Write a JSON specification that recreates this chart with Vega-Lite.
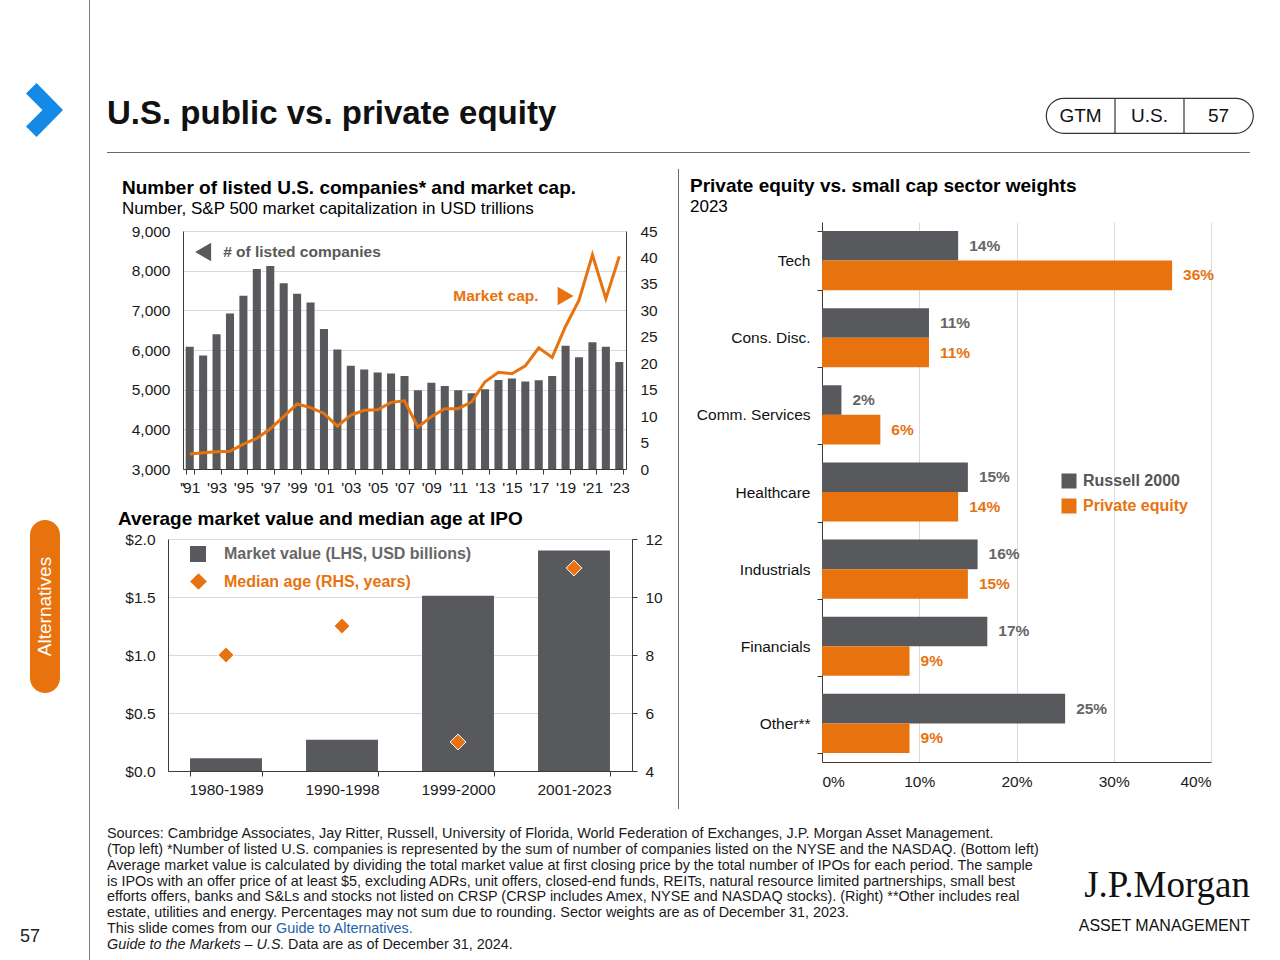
{
  "$schema": "https://vega.github.io/schema/vega-lite/v6.json",
  "background": "white",
  "padding": 0,
  "spacing": 0,
  "config": {
    "font": "Liberation Sans",
    "view": {"stroke": null},
    "axis": {"labelFont": "Liberation Sans", "labelFontSize": 15.5, "labelColor": "#1a1a1a", "domainColor": "#3a3a3a", "tickColor": "#3a3a3a", "gridColor": "#dadada"},
    "legend": {"labelFont": "Liberation Sans", "padding": 0},
    "title": {"font": "Liberation Sans", "subtitleFont": "Liberation Sans", "color": "#000000", "subtitleColor": "#000000", "fontWeight": "bold", "anchor": "start", "frame": "group"},
    "text": {"font": "Liberation Sans"}
  },
  "hconcat": [
    {
      "spacing": 0,
      "vconcat": [
        {"width": 89, "height": 83, "data": {"values": []}, "mark": "text"},
        {"width": 89, "height": 54, "data": {"values": [{"icon": "chevron"}]}, "mark": {"type": "point", "shape": "M-0.685,-0.611L-0.296,-1L0.685,0L-0.296,1L-0.685,0.611L-0.074,0Z", "size": 2916, "filled": true, "color": "#1589e6", "opacity": 1, "strokeWidth": 0}},
        {"width": 89, "height": 383, "data": {"values": []}, "mark": "text"},
        {
          "spacing": 0,
          "hconcat": [
            {"width": 30, "height": 173, "data": {"values": []}, "mark": "text"},
            {"width": 30, "height": 173, "view": {"fill": "#e8730e", "cornerRadius": 15, "stroke": null}, "data": {"values": [{"section": "Alternatives"}]}, "mark": {"type": "text", "angle": 270, "color": "white", "fontSize": 19, "baseline": "middle", "align": "center"}, "encoding": {"text": {"field": "section"}}}
          ]
        },
        {"width": 89, "height": 232, "data": {"values": []}, "mark": "text"},
        {"width": 60, "height": 24, "data": {"values": [{"page": "57"}]}, "mark": {"type": "text", "fontSize": 18, "color": "#222222", "baseline": "middle"}, "encoding": {"text": {"field": "page"}}}
      ]
    },
    {"width": 1, "height": 960, "view": {"fill": "#7a7a7a", "stroke": null}, "data": {"values": []}, "mark": "text"},
    {"width": 17, "height": 10, "data": {"values": []}, "mark": "text"},
    {
      "spacing": 0,
      "vconcat": [
        {"width": 1143, "height": 96, "data": {"values": []}, "mark": "text"},
        {
          "spacing": 0,
          "hconcat": [
            {"width": 938, "height": 35, "data": {"values": []}, "mark": "text", "title": {"text": "U.S. public vs. private equity", "fontSize": 33, "fontWeight": "bold", "color": "#111111", "anchor": "start", "frame": "group", "orient": "top", "offset": -33}},
            {
              "width": 207, "height": 35,
              "view": {"stroke": "#333333", "strokeWidth": 1.2, "cornerRadius": 17.5},
              "data": {"values": [{"tag": "GTM"}, {"tag": "U.S."}, {"tag": "57"}]},
              "encoding": {"x": {"field": "tag", "type": "nominal", "sort": null, "axis": null, "scale": {"paddingInner": 0, "paddingOuter": 0}}},
              "layer": [
                {"mark": {"type": "text", "fontSize": 19, "color": "#111111", "baseline": "middle"}, "encoding": {"text": {"field": "tag"}}},
                {"transform": [{"filter": "datum.tag !== 'GTM'"}], "mark": {"type": "rule", "color": "#333333", "strokeWidth": 1.2}, "encoding": {"x": {"field": "tag", "type": "nominal", "sort": null, "bandPosition": 0}}}
              ]
            }
          ]
        },
        {"width": 1143, "height": 17, "data": {"values": []}, "mark": "text"},
        {"width": 1143, "height": 1, "view": {"fill": "#6b6b6b", "stroke": null}, "data": {"values": []}, "mark": "text"},
        {
          "spacing": 0,
          "hconcat": [
            {
              "spacing": 0,
              "vconcat": [
                {"width": 571, "height": 26, "data": {"values": []}, "mark": "text"},
                {
                  "spacing": 0,
                  "hconcat": [
                    {"width": 15, "height": 10, "data": {"values": []}, "mark": "text"},
                    {
                      "width": 443, "height": 238,
                      "title": {"text": "Number of listed U.S. companies* and market cap.", "subtitle": "Number, S&P 500 market capitalization in USD trillions", "fontSize": 19, "subtitleFontSize": 17, "subtitleFontWeight": "normal", "subtitlePadding": 3, "dx": -61, "offset": 7},
                      "data": {"values": [
                        {"yr": 1991, "listed": 6080, "mktcap": 2.85},
                        {"yr": 1992, "listed": 5860, "mktcap": 3.05},
                        {"yr": 1993, "listed": 6400, "mktcap": 3.25},
                        {"yr": 1994, "listed": 6920, "mktcap": 3.35},
                        {"yr": 1995, "listed": 7370, "mktcap": 4.7},
                        {"yr": 1996, "listed": 8040, "mktcap": 5.8},
                        {"yr": 1997, "listed": 8115, "mktcap": 7.6},
                        {"yr": 1998, "listed": 7685, "mktcap": 9.9},
                        {"yr": 1999, "listed": 7420, "mktcap": 12.3},
                        {"yr": 2000, "listed": 7195, "mktcap": 11.6},
                        {"yr": 2001, "listed": 6530, "mktcap": 10.5},
                        {"yr": 2002, "listed": 6010, "mktcap": 8.1},
                        {"yr": 2003, "listed": 5600, "mktcap": 10.2},
                        {"yr": 2004, "listed": 5510, "mktcap": 11.1},
                        {"yr": 2005, "listed": 5430, "mktcap": 11.2},
                        {"yr": 2006, "listed": 5410, "mktcap": 12.6},
                        {"yr": 2007, "listed": 5345, "mktcap": 12.9},
                        {"yr": 2008, "listed": 4985, "mktcap": 7.9},
                        {"yr": 2009, "listed": 5175, "mktcap": 9.9},
                        {"yr": 2010, "listed": 5090, "mktcap": 11.4},
                        {"yr": 2011, "listed": 4985, "mktcap": 11.4},
                        {"yr": 2012, "listed": 4910, "mktcap": 12.7},
                        {"yr": 2013, "listed": 5010, "mktcap": 16.5},
                        {"yr": 2014, "listed": 5245, "mktcap": 18.3},
                        {"yr": 2015, "listed": 5280, "mktcap": 18.0},
                        {"yr": 2016, "listed": 5205, "mktcap": 19.5},
                        {"yr": 2017, "listed": 5235, "mktcap": 22.9},
                        {"yr": 2018, "listed": 5345, "mktcap": 21.1},
                        {"yr": 2019, "listed": 6110, "mktcap": 27.0},
                        {"yr": 2020, "listed": 5815, "mktcap": 31.9},
                        {"yr": 2021, "listed": 6195, "mktcap": 40.5},
                        {"yr": 2022, "listed": 6085, "mktcap": 32.2},
                        {"yr": 2023, "listed": 5700, "mktcap": 40.2}
                      ]},
                      "encoding": {"x": {"field": "yr", "type": "ordinal", "scale": {"paddingInner": 0.4, "paddingOuter": 0.2}, "axis": {"title": null, "values": [1991, 1993, 1995, 1997, 1999, 2001, 2003, 2005, 2007, 2009, 2011, 2013, 2015, 2017, 2019, 2021, 2023], "labelExpr": "\"'\" + slice(datum.label, 2)", "labelAngle": 0, "tickBand": "extent", "tickSize": 5, "labelPadding": 6}}},
                      "layer": [
                        {"mark": {"type": "bar", "color": "#57595c", "clip": true}, "encoding": {"y": {"field": "listed", "type": "quantitative", "scale": {"domain": [3000, 9000]}, "axis": {"title": null, "values": [3000, 4000, 5000, 6000, 7000, 8000, 9000], "format": ",.0f", "ticks": false, "labelPadding": 13, "grid": true}}}},
                        {"mark": {"type": "line", "color": "#e8730e", "strokeWidth": 3}, "encoding": {"y": {"field": "mktcap", "type": "quantitative", "scale": {"domain": [0, 45]}, "axis": {"title": null, "orient": "right", "values": [0, 5, 10, 15, 20, 25, 30, 35, 40, 45], "format": ".0f", "ticks": false, "labelPadding": 14, "grid": false}}}},
                        {"data": {"values": [{"note": "# of listed companies"}]}, "mark": {"type": "point", "shape": "triangle-left", "size": 340, "filled": true, "color": "#57595c", "opacity": 1}, "encoding": {"x": {"datum": 1992, "type": "ordinal"}, "y": {"datum": 8470, "type": "quantitative", "scale": {"domain": [3000, 9000]}, "axis": null}}},
                        {"data": {"values": [{"note": "# of listed companies"}]}, "mark": {"type": "text", "align": "left", "baseline": "middle", "dx": 20, "fontSize": 15.5, "fontWeight": "bold", "color": "#595959"}, "encoding": {"x": {"datum": 1992, "type": "ordinal"}, "y": {"datum": 8470, "type": "quantitative", "scale": {"domain": [3000, 9000]}, "axis": null}, "text": {"field": "note"}}},
                        {"data": {"values": [{"note": "Market cap."}]}, "mark": {"type": "text", "align": "right", "baseline": "middle", "dx": -27, "fontSize": 15.5, "fontWeight": "bold", "color": "#e8730e"}, "encoding": {"x": {"datum": 2019, "type": "ordinal"}, "y": {"datum": 7360, "type": "quantitative", "scale": {"domain": [3000, 9000]}, "axis": null}, "text": {"field": "note"}}},
                        {"data": {"values": [{"note": "Market cap."}]}, "mark": {"type": "point", "shape": "triangle-right", "size": 340, "filled": true, "color": "#e8730e", "opacity": 1}, "encoding": {"x": {"datum": 2019, "type": "ordinal"}, "y": {"datum": 7360, "type": "quantitative", "scale": {"domain": [3000, 9000]}, "axis": null}}}
                      ],
                      "resolve": {"scale": {"y": "independent"}}
                    }
                  ]
                },
                {"width": 571, "height": 14, "data": {"values": []}, "mark": "text"},
                {
                  "spacing": 0,
                  "hconcat": [
                    {"width": 11, "height": 10, "data": {"values": []}, "mark": "text"},
                    {
                      "width": 464, "height": 232,
                      "title": {"text": "Average market value and median age at IPO", "fontSize": 19, "dx": -50, "offset": 3},
                      "data": {"values": [
                        {"period": "1980-1989", "value": 0.11, "age": 8},
                        {"period": "1990-1998", "value": 0.27, "age": 9},
                        {"period": "1999-2000", "value": 1.51, "age": 5},
                        {"period": "2001-2023", "value": 1.9, "age": 11}
                      ]},
                      "encoding": {"x": {"field": "period", "type": "nominal", "sort": null, "scale": {"paddingInner": 0.38, "paddingOuter": 0.19}, "axis": {"title": null, "labelAngle": 0, "tickBand": "extent", "tickSize": 5, "labelPadding": 6}}},
                      "layer": [
                        {"mark": {"type": "bar"}, "encoding": {
                          "y": {"field": "value", "type": "quantitative", "scale": {"domain": [0, 2]}, "axis": {"title": null, "values": [0, 0.5, 1, 1.5, 2], "format": "$.1f", "ticks": false, "labelPadding": 13, "grid": true}},
                          "color": {"datum": "Market value (LHS, USD billions)", "type": "nominal", "scale": {"range": ["#57595c"]}, "legend": {"orient": "none", "legendX": 22, "legendY": 7, "title": null, "symbolType": "square", "symbolSize": 256, "labelFontSize": 16, "labelFontWeight": "bold", "labelColor": "#666666", "labelOffset": 18, "labelLimit": 400, "symbolStrokeWidth": 0}}
                        }},
                        {"mark": {"type": "point", "shape": "diamond", "filled": true, "size": 250, "stroke": "white", "strokeWidth": 1, "opacity": 1}, "encoding": {
                          "y": {"field": "age", "type": "quantitative", "scale": {"domain": [4, 12]}, "axis": {"title": null, "orient": "right", "values": [4, 6, 8, 10, 12], "format": ".0f", "ticks": true, "tickSize": 5, "labelPadding": 8, "grid": false}},
                          "color": {"datum": "Median age (RHS, years)", "type": "nominal", "scale": {"range": ["#e8730e"]}, "legend": {"orient": "none", "legendX": 22, "legendY": 34, "title": null, "symbolType": "diamond", "symbolSize": 280, "labelFontSize": 16, "labelFontWeight": "bold", "labelColor": "#e8730e", "labelOffset": 17, "labelLimit": 400, "symbolStrokeWidth": 0}}
                        }}
                      ],
                      "resolve": {"scale": {"y": "independent", "color": "independent"}}
                    }
                  ]
                }
              ]
            },
            {
              "spacing": 0,
              "vconcat": [
                {"width": 1, "height": 16, "data": {"values": []}, "mark": "text"},
                {"width": 1, "height": 640, "view": {"fill": "#6b6b6b", "stroke": null}, "data": {"values": []}, "mark": "text"}
              ]
            },
            {
              "spacing": 0,
              "vconcat": [
                {"width": 560, "height": 24, "data": {"values": []}, "mark": "text"},
                {
                  "spacing": 0,
                  "hconcat": [
                    {"width": 11, "height": 10, "data": {"values": []}, "mark": "text"},
                    {
                      "width": 389, "height": 540,
                      "title": {"text": "Private equity vs. small cap sector weights", "subtitle": "2023", "fontSize": 19, "subtitleFontSize": 17, "subtitleFontWeight": "normal", "subtitlePadding": 3, "dx": -132, "offset": 0},
                      "data": {"values": [
                        {"sector": "Tech", "series": "Russell 2000", "weight": 0.14},
                        {"sector": "Tech", "series": "Private equity", "weight": 0.36},
                        {"sector": "Cons. Disc.", "series": "Russell 2000", "weight": 0.11},
                        {"sector": "Cons. Disc.", "series": "Private equity", "weight": 0.11},
                        {"sector": "Comm. Services", "series": "Russell 2000", "weight": 0.02},
                        {"sector": "Comm. Services", "series": "Private equity", "weight": 0.06},
                        {"sector": "Healthcare", "series": "Russell 2000", "weight": 0.15},
                        {"sector": "Healthcare", "series": "Private equity", "weight": 0.14},
                        {"sector": "Industrials", "series": "Russell 2000", "weight": 0.16},
                        {"sector": "Industrials", "series": "Private equity", "weight": 0.15},
                        {"sector": "Financials", "series": "Russell 2000", "weight": 0.17},
                        {"sector": "Financials", "series": "Private equity", "weight": 0.09},
                        {"sector": "Other**", "series": "Russell 2000", "weight": 0.25},
                        {"sector": "Other**", "series": "Private equity", "weight": 0.09}
                      ]},
                      "encoding": {
                        "y": {"field": "sector", "type": "nominal", "sort": ["Tech", "Cons. Disc.", "Comm. Services", "Healthcare", "Industrials", "Financials", "Other**"], "scale": {"paddingInner": 0.233, "paddingOuter": 0.1167}, "axis": {"title": null, "tickBand": "extent", "tickSize": 5, "labelPadding": 7, "labelColor": "#111111"}},
                        "yOffset": {"field": "series", "type": "nominal", "sort": ["Russell 2000", "Private equity"], "scale": {"paddingInner": 0, "paddingOuter": 0}},
                        "x": {"field": "weight", "type": "quantitative", "scale": {"domain": [0, 0.4]}, "axis": {"title": null, "format": ".0%", "values": [0, 0.1, 0.2, 0.3, 0.4], "ticks": false, "labelPadding": 12, "grid": true}}
                      },
                      "layer": [
                        {"transform": [{"filter": "datum.series === 'Russell 2000'"}], "mark": {"type": "bar"}, "encoding": {"color": {"datum": "Russell 2000", "type": "nominal", "scale": {"range": ["#57595c"]}, "legend": {"orient": "none", "legendX": 239, "legendY": 251, "title": null, "symbolType": "square", "symbolSize": 225, "labelFontSize": 16, "labelFontWeight": "bold", "labelColor": "#555555", "labelOffset": 6, "symbolStrokeWidth": 0}}}},
                        {"transform": [{"filter": "datum.series === 'Private equity'"}], "mark": {"type": "bar"}, "encoding": {"color": {"datum": "Private equity", "type": "nominal", "scale": {"range": ["#e8730e"]}, "legend": {"orient": "none", "legendX": 239, "legendY": 276, "title": null, "symbolType": "square", "symbolSize": 225, "labelFontSize": 16, "labelFontWeight": "bold", "labelColor": "#e8730e", "labelOffset": 6, "symbolStrokeWidth": 0}}}},
                        {"mark": {"type": "text", "align": "left", "baseline": "middle", "dx": 11, "fontSize": 15.5, "fontWeight": "bold"}, "encoding": {"text": {"field": "weight", "type": "quantitative", "format": ".0%"}, "color": {"condition": {"test": "datum.series === 'Private equity'", "value": "#e8730e"}, "value": "#666666"}}}
                      ],
                      "resolve": {"scale": {"color": "independent"}}
                    }
                  ]
                }
              ]
            }
          ]
        },
        {"width": 1143, "height": 16, "data": {"values": []}, "mark": "text"},
        {
          "width": 1143, "height": 127,
          "data": {"values": [
            {"line": 1, "note": "Sources: Cambridge Associates, Jay Ritter, Russell, University of Florida, World Federation of Exchanges, J.P. Morgan Asset Management."},
            {"line": 2, "note": "(Top left) *Number of listed U.S. companies is represented by the sum of number of companies listed on the NYSE and the NASDAQ. (Bottom left)"},
            {"line": 3, "note": "Average market value is calculated by dividing the total market value at first closing price by the total number of IPOs for each period. The sample"},
            {"line": 4, "note": "is IPOs with an offer price of at least $5, excluding ADRs, unit offers, closed-end funds, REITs, natural resource limited partnerships, small best"},
            {"line": 5, "note": "efforts offers, banks and S&Ls and stocks not listed on CRSP (CRSP includes Amex, NYSE and NASDAQ stocks).  (Right) **Other includes real"},
            {"line": 6, "note": "estate, utilities and energy. Percentages may not sum due to rounding. Sector weights are as of December 31, 2023."},
            {"line": 7, "note": "This slide comes from our"}
          ]},
          "encoding": {
            "y": {"field": "line", "type": "ordinal", "axis": null, "scale": {"paddingInner": 0, "paddingOuter": 0}},
            "x": {"datum": 0, "type": "quantitative", "scale": {"domain": [0, 1]}, "axis": null}
          },
          "layer": [
            {"mark": {"type": "text", "align": "left", "baseline": "middle", "fontSize": 14.4, "color": "#1a1a1a"}, "encoding": {"text": {"field": "note"}}},
            {"data": {"values": [{"line": 7, "note": "Guide to Alternatives."}]}, "mark": {"type": "text", "align": "left", "baseline": "middle", "fontSize": 14.4, "dx": 169, "color": "#1f5fa8"}, "encoding": {"text": {"field": "note"}}},
            {"data": {"values": [{"line": 8, "note": "Guide to the Markets – U.S."}]}, "mark": {"type": "text", "align": "left", "baseline": "middle", "fontSize": 14.4, "fontStyle": "italic", "color": "#1a1a1a"}, "encoding": {"text": {"field": "note"}}},
            {"data": {"values": [{"line": 8, "note": "Data are as of December 31, 2024."}]}, "mark": {"type": "text", "align": "left", "baseline": "middle", "fontSize": 14.4, "dx": 181, "color": "#1a1a1a"}, "encoding": {"text": {"field": "note"}}},
            {"data": {"values": [{"brand": "J.P.Morgan"}]}, "mark": {"type": "text", "align": "right", "baseline": "alphabetic", "font": "Liberation Serif", "fontSize": 37, "color": "#111111"}, "encoding": {"x": {"datum": 1, "type": "quantitative"}, "y": {"datum": 5, "type": "ordinal"}, "text": {"field": "brand"}}},
            {"data": {"values": [{"brand": "ASSET MANAGEMENT"}]}, "mark": {"type": "text", "align": "right", "baseline": "alphabetic", "dy": 2, "fontSize": 16, "color": "#111111"}, "encoding": {"x": {"datum": 1, "type": "quantitative"}, "y": {"datum": 7, "type": "ordinal"}, "text": {"field": "brand"}}}
          ]
        }
      ]
    }
  ]
}
